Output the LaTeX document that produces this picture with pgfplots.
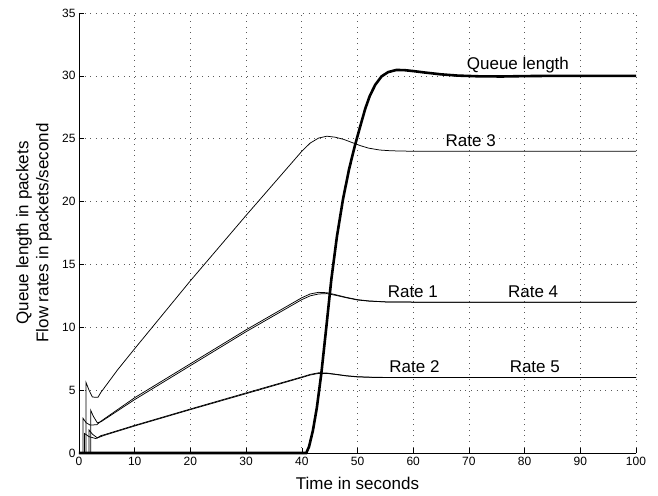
\documentclass[border=0pt]{standalone}
\usepackage{pgfplots}
\pgfplotsset{compat=1.18}
\usepackage{fontspec}
\setmainfont{Liberation Sans}
\begin{document}
\begin{tikzpicture}
\begin{axis}[
  scale only axis, width=557pt, height=440pt,
  xmin=0, xmax=100, ymin=0, ymax=35,
  xtick={0,10,...,100}, ytick={0,5,...,35},
  axis x line*=bottom, axis y line*=left,
  axis line style={-, line width=0.6pt},
  tick align=inside, major tick length=5pt,
  tick style={black, line width=0.6pt},
  grid=major,
  major grid style={black!65, dash pattern=on 0.8pt off 4.8pt, line width=0.7pt},
  tick label style={font=\fontsize{12}{14}\selectfont},
  /pgf/number format/assume math mode=true,
  xticklabel style={yshift=-1pt},
  clip=false,
  every axis x label/.style={at={([yshift=-30pt]axis description cs:0.5,0)}, anchor=center, font=\fontsize{17}{20}\selectfont},
  every axis y label/.style={at={([xshift=-45pt]axis description cs:0,0.5)}, anchor=center, rotate=90, align=center, font=\fontsize{17}{20}\selectfont},
  xlabel={Time in seconds},
  ylabel={Queue length in packets\\Flow rates in packets/second},
]
% Queue length
\addplot[black, line width=2.6pt] coordinates {
(0,0)(40.8,0)(41.3,0.5)(42,1.8)(42.7,3.6)(43.5,6.3)(44.4,10)(45.3,13.8)(46.3,17.2)(47.4,20.2)(48.5,22.6)(49.5,24.4)(50.5,26)(51.4,27.4)(52.2,28.4)(53.2,29.3)(54.3,29.95)(55.5,30.3)(57,30.47)(58.5,30.45)(60,30.38)(62,30.27)(65,30.12)(68,30.02)(72,29.96)(76,29.95)(80,29.98)(85,30.0)(100,30.0)
};
% Rate 3
\addplot[black, line width=0.75pt] coordinates {
(1.27,0)(1.27,5.6)(1.8,5.0)(2.4,4.45)(3.4,4.43)(3.9,4.8)(6.9,6.6)(10,8.3)(20,13.7)(30,18.9)(40,24.0)(41.5,24.65)(43,25.05)(44.5,25.2)(46,25.12)(47.5,24.95)(49,24.7)(50.5,24.45)(52,24.25)(54,24.1)(56,24.04)(60,24.0)(100,24.0)
};
% Rate 1
\addplot[black, line width=0.75pt] coordinates {
(0.72,0)(0.72,2.76)(1.3,2.4)(2.0,2.22)(3.2,2.25)(4,2.55)(10,4.4)(20,7.1)(30,9.8)(40,12.35)(41.5,12.65)(43,12.78)(44.5,12.75)(46,12.6)(48,12.38)(50,12.2)(52,12.1)(55,12.02)(60,12.0)(100,12.0)
};
% Rate 4
\addplot[black, line width=0.75pt] coordinates {
(2.1,0)(2.1,3.4)(2.6,2.9)(3.3,2.4)(4,2.5)(10,4.25)(20,6.95)(30,9.65)(40,12.2)(41.5,12.5)(43,12.65)(44.5,12.68)(46,12.55)(48,12.35)(50,12.17)(52,12.08)(55,12.02)(60,12.0)(100,12.0)
};
% Rate 2
\addplot[black, line width=0.75pt] coordinates {
(1.8,0)(1.8,1.83)(2.4,1.5)(3.3,1.2)(3.9,1.38)(4.5,1.45)(10,2.2)(20,3.5)(30,4.78)(40,6.05)(41.5,6.25)(43,6.38)(44.5,6.36)(46,6.27)(48,6.15)(50,6.07)(53,6.02)(60,6.0)(100,6.0)
};
% Rate 5
\addplot[black, line width=0.75pt] coordinates {
(1.0,0)(1.0,1.55)(1.8,1.3)(3.0,1.15)(3.9,1.3)(4.5,1.4)(10,2.15)(20,3.45)(30,4.72)(40,6.0)(41.5,6.2)(43,6.33)(44.5,6.33)(46,6.25)(48,6.13)(50,6.05)(53,6.01)(60,6.0)(100,6.0)
};
\begin{scope}[every node/.style={anchor=base west, inner sep=0pt, font=\fontsize{17}{20}\selectfont}]
\node at (axis cs:69.6,30.52) {Queue length};
\node at (axis cs:65.8,24.37) {Rate 3};
\node at (axis cs:55.4,12.39) {Rate 1};
\node at (axis cs:77.0,12.39) {Rate 4};
\node at (axis cs:55.7,6.41) {Rate 2};
\node at (axis cs:77.3,6.41) {Rate 5};
\end{scope}
\end{axis}
\pgfresetboundingbox
\useasboundingbox ([shift={(-79pt,-42pt)}]current axis.south west) rectangle ([shift={(22pt,13pt)}]current axis.north east);
\end{tikzpicture}
\end{document}
